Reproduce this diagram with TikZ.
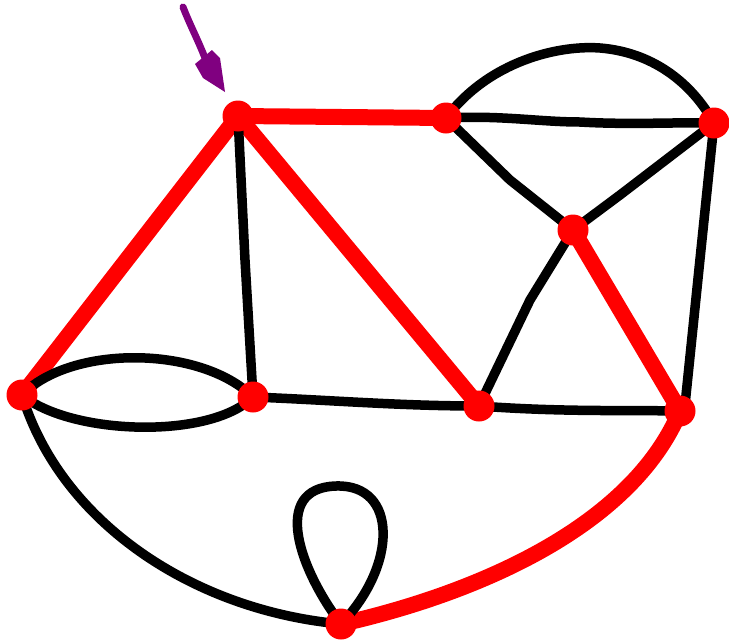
\documentclass[tikz,border=0pt]{standalone}
\begin{document}
\begin{tikzpicture}[x=1pt,y=-1pt,
  blk/.style={draw=black,line width=9.5pt,line cap=round,line join=round},
  redge/.style={draw=red,line width=16pt,line cap=round,line join=round},
  vtx/.style={circle,fill=red,inner sep=0pt,minimum size=31pt},
  purp/.style={draw={rgb,255:red,128;green,0;blue,128},line width=7pt,line cap=round}]
\useasboundingbox (0,0) rectangle (729,643);
\definecolor{purple}{RGB}{128,0,128}
\coordinate (A) at (238,116);
\coordinate (B) at (446,118);
\coordinate (C) at (714,123);
\coordinate (D) at (573,230);
\coordinate (E) at (22,395);
\coordinate (F) at (253,397);
\coordinate (G) at (479,406);
\coordinate (H) at (680,411);
\coordinate (I) at (341,624);
% red edges
\draw[redge] (A) -- (B);
\draw[redge] (A) -- (E);
\draw[redge] (A) -- (G);
\draw[redge] (D) -- (H);
\draw[redge] (I) .. controls (470,595) and (630,530) .. (H);
% black edges
\draw[blk] (A) -- (245,260) -- (F);
\draw[blk] (B) .. controls (490,60) and (560,45) .. (600,48) .. controls (650,52) and (690,80) .. (C);
\draw[blk] (B) .. controls (500,115) and (540,122) .. (580,122) .. controls (630,125) and (680,122) .. (C);
\draw[blk] (B) -- (510,180) -- (D);
\draw[blk] (C) -- (620,195) -- (D);
\draw[blk] (C) -- (685,405);
\draw[blk] (D) -- (530,300) -- (G);
\draw[blk] (F) .. controls (330,400) and (400,406) .. (G);
\draw[blk] (G) .. controls (560,412) and (620,410) .. (H);
\draw[blk] (E) .. controls (70,345) and (200,345) .. (F);
\draw[blk] (E) .. controls (70,435) and (210,440) .. (F);
\draw[blk] (E) .. controls (60,520) and (190,610) .. (I);
\draw[blk] (I) .. controls (300,570) and (270,488) .. (336,486) .. controls (398,484) and (398,565) .. (I);
% vertices
\foreach \v in {A,B,C,D,E,F,G,H,I} \node[vtx] (n\v) at (\v) {};
% purple arrow
\coordinate (p1) at (183,7);
\coordinate (p2) at (205,58);
\draw[purp] (p1) .. controls (190,25) and (198,40) .. (p2);
\fill[purple] (195,64) -- (212,50) -- (220,58) -- (225,92) -- (203,78) -- cycle;
\end{tikzpicture}
\end{document}
